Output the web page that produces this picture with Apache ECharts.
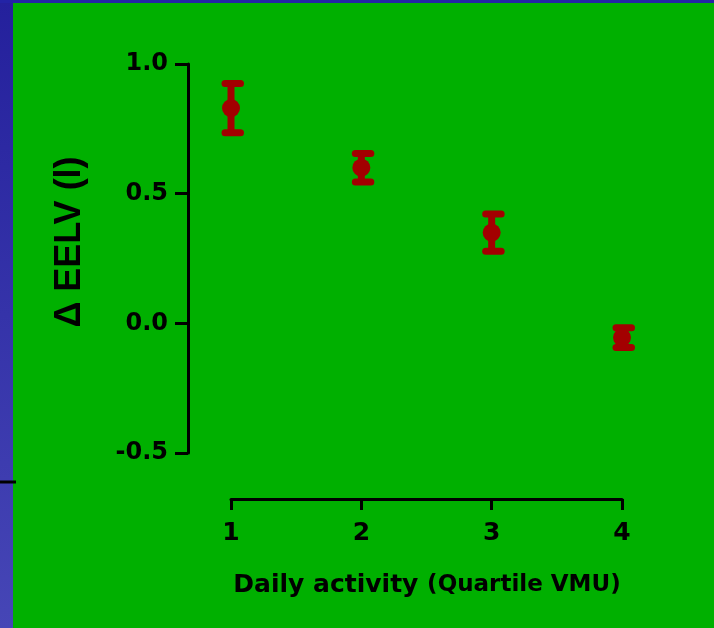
<!DOCTYPE html>
<html>
<head>
<meta charset="utf-8">
<script src="https://cdn.jsdelivr.net/npm/echarts@6/dist/echarts.min.js"></script>
<style>
html,body{margin:0;padding:0;background:#00b000;}
#chart{width:714px;height:628px;}
</style>
</head>
<body>
<div id="chart"></div>
<script>
// Data
const categories = [1, 2, 3, 4];
const means = [0.83, 0.60, 0.35, -0.055];
const errors = [0.095, 0.055, 0.072, 0.038];
const yTitle = 'Δ EELV (l)';
const xTitleMain = 'Daily activity';
const xTitleSub = '(Quartile VMU)';

const RED = '#a30000';
const chart = echarts.init(document.getElementById('chart'));

const errData = categories.map((c, i) => [c, means[i] - errors[i], means[i] + errors[i]]);
const pointData = categories.map((c, i) => [c, means[i]]);

const option = {
  backgroundColor: '#00b000',
  animation: false,
  grid: { left: 231, right: 92, top: 64, bottom: 175, containLabel: false },
  xAxis: {
    type: 'value', min: 1, max: 4, interval: 1, offset: 46,
    axisLine: { show: true, onZero: false, lineStyle: { color: '#000', width: 3 } },
    axisTick: { show: true, length: 11, lineStyle: { color: '#000', width: 3 } },
    axisLabel: { margin: 22, color: '#000', fontFamily: 'DejaVu Sans', fontWeight: 'bold', fontSize: 25 },
    splitLine: { show: false }
  },
  yAxis: {
    type: 'value', min: -0.5, max: 1.0, interval: 0.5, offset: 43,
    axisLine: { show: true, onZero: false, lineStyle: { color: '#000', width: 3 } },
    axisTick: { show: true, length: 13, lineStyle: { color: '#000', width: 3 } },
    axisLabel: { margin: 20, color: '#000', fontFamily: 'DejaVu Sans', fontWeight: 'bold', fontSize: 24,
      formatter: v => v.toFixed(1) },
    splitLine: { show: false }
  },
  graphic: [
    { type: 'rect', left: 0, top: 0, shape: { width: 13, height: 628 }, silent: true,
      style: { fill: new echarts.graphic.LinearGradient(0, 0, 0, 1, [
        { offset: 0, color: '#24209c' }, { offset: 1, color: '#4646b6' }]) } },
    { type: 'rect', left: 0, top: 0, shape: { width: 714, height: 3 }, silent: true,
      style: { fill: '#2323a6' } },
    { type: 'line', silent: true, shape: { x1: 0, y1: 482, x2: 16, y2: 482 },
      style: { stroke: '#000', lineWidth: 3 } },
    { type: 'text', x: 70, y: 242, rotation: Math.PI / 2, silent: true,
      style: { text: yTitle, fill: '#000', font: 'bold 36px "Liberation Sans", Arial, sans-serif',
        textAlign: 'center', textVerticalAlign: 'middle' } },
    { type: 'text', x: 427, y: 585, silent: true,
      style: { text: '{a|' + xTitleMain + ' }{b|' + xTitleSub + '}', textAlign: 'center', textVerticalAlign: 'middle',
        rich: {
          a: { fontFamily: 'DejaVu Sans', fontWeight: 'bold', fontSize: 25, fill: '#000', color: '#000' },
          b: { fontFamily: 'DejaVu Sans', fontWeight: 'bold', fontSize: 23, fill: '#000', color: '#000' }
        } } }
  ],
  series: [
    {
      type: 'custom',
      data: errData,
      z: 3,
      renderItem: function (params, api) {
        const x = api.value(0);
        const pLo = api.coord([x, api.value(1)]);
        const pHi = api.coord([x, api.value(2)]);
        const st = { stroke: RED, lineWidth: 7, lineCap: 'round' };
        return {
          type: 'group',
          children: [
            { type: 'line', shape: { x1: pHi[0], y1: pHi[1], x2: pLo[0], y2: pLo[1] }, style: { stroke: RED, lineWidth: 7 } },
            { type: 'line', shape: { x1: pHi[0] - 6, y1: pHi[1], x2: pHi[0] + 9.5, y2: pHi[1] }, style: st },
            { type: 'line', shape: { x1: pLo[0] - 6, y1: pLo[1], x2: pLo[0] + 9.5, y2: pLo[1] }, style: st }
          ]
        };
      }
    },
    {
      type: 'scatter',
      data: pointData,
      symbol: 'circle',
      symbolSize: 18,
      z: 4,
      itemStyle: { color: RED, opacity: 1 }
    }
  ]
};
chart.setOption(option);
</script>
</body>
</html>
